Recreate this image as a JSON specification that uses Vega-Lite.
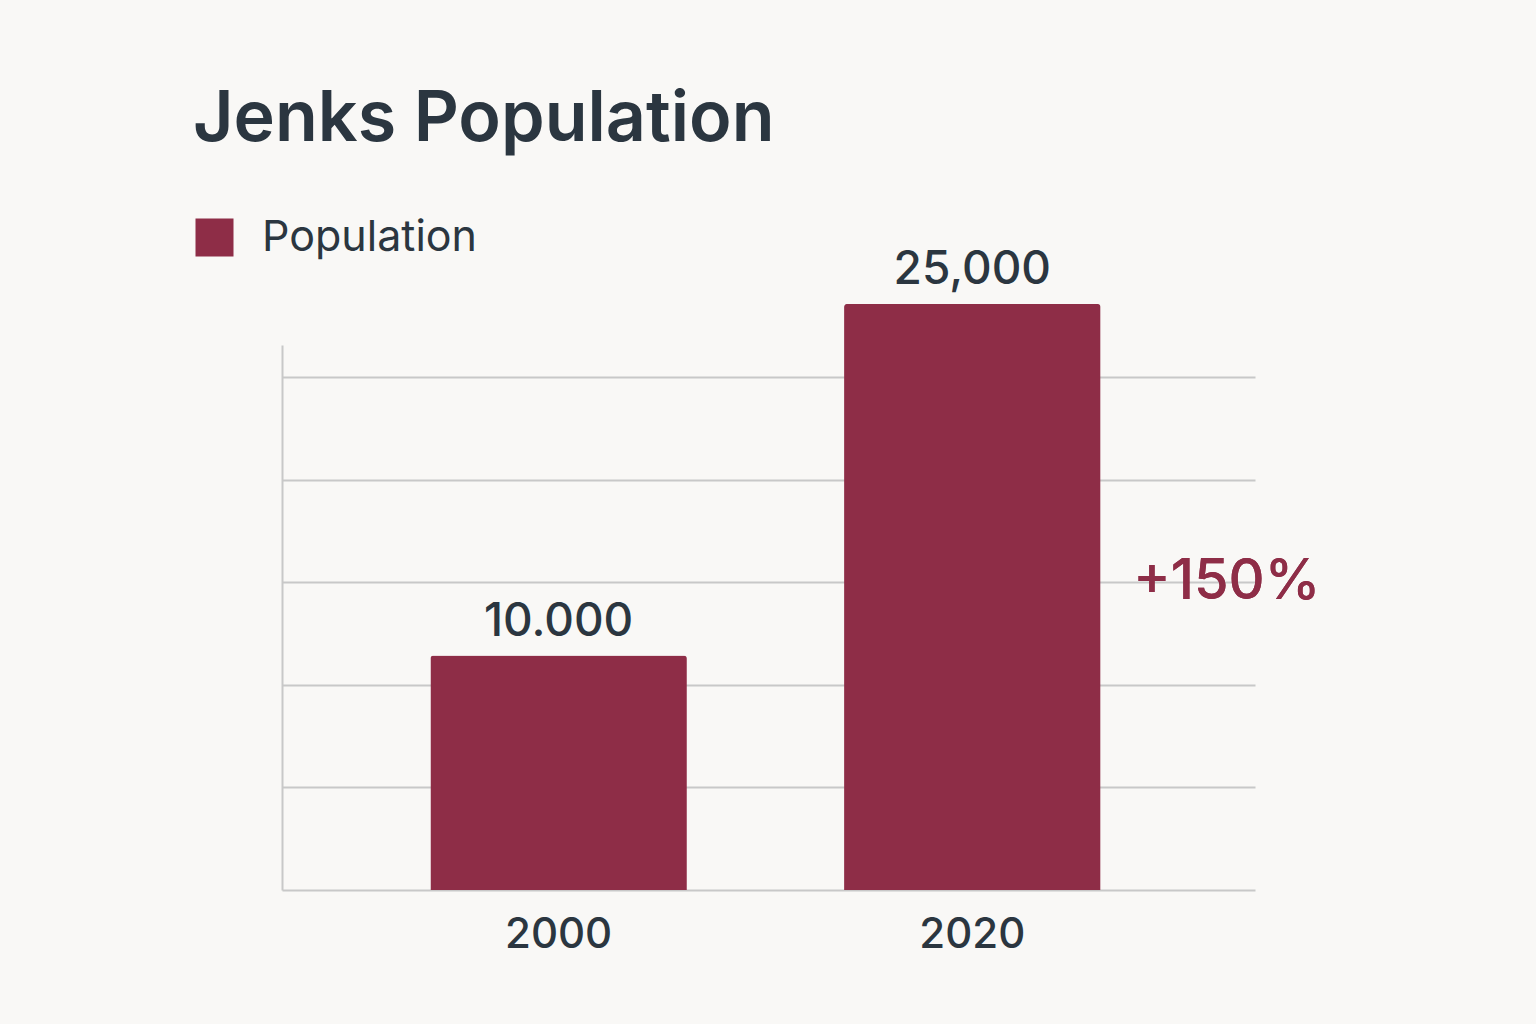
{
  "$schema": "https://vega.github.io/schema/vega-lite/v6.json",
  "width": 973,
  "height": 545,
  "autosize": {"type": "none"},
  "padding": {"left": 282, "top": 345, "right": 281, "bottom": 134},
  "background": "#f9f8f6",
  "title": {
    "text": "Jenks Population",
    "anchor": "start",
    "frame": "group",
    "dx": -89,
    "offset": 60,
    "fontSize": 70,
    "fontWeight": 600,
    "font": "Inter",
    "color": "#2b3640"
  },
  "data": {
    "values": [
      {"year": "2000", "population": 10000, "label": "10.000", "series": "Population"},
      {"year": "2020", "population": 25000, "label": "25,000", "series": "Population"}
    ]
  },
  "encoding": {
    "x": {
      "field": "year",
      "type": "nominal",
      "scale": {"paddingInner": 0.38, "paddingOuter": 0.366, "align": 0.49},
      "axis": {
        "title": null,
        "labelAngle": 0,
        "labelFontSize": 42,
        "labelFont": "Inter",
        "labelFontWeight": 500,
        "labelColor": "#2b3640",
        "labelPadding": 24,
        "ticks": false,
        "domainColor": "#c8c8c8",
        "domainWidth": 2
      }
    },
    "y": {
      "field": "population",
      "type": "quantitative",
      "scale": {"domain": [0, 23250], "nice": false},
      "axis": {
        "title": null,
        "labels": false,
        "ticks": false,
        "values": [4376, 8752, 13128, 17504, 21880],
        "grid": true,
        "gridColor": "#c8c8c8",
        "gridWidth": 2,
        "domainColor": "#c8c8c8",
        "domainWidth": 2
      }
    }
  },
  "layer": [
    {
      "mark": {"type": "bar", "cornerRadiusTopLeft": 3, "cornerRadiusTopRight": 3},
      "encoding": {
        "color": {
          "field": "series",
          "type": "nominal",
          "scale": {"range": ["#8e2d47"]},
          "legend": {
            "title": null,
            "orient": "none",
            "legendX": -89,
            "legendY": -129,
            "padding": 0,
            "symbolType": "square",
            "symbolSize": 1444,
            "symbolStrokeWidth": 0,
            "labelFontSize": 43,
            "labelFont": "Inter",
            "labelColor": "#2b3640",
            "labelOffset": 26,
            "labelLimit": 0
          }
        }
      }
    },
    {
      "mark": {"type": "text", "baseline": "alphabetic", "dy": -20, "fontSize": 46, "fontWeight": 500, "font": "Inter", "color": "#2b3640"},
      "encoding": {"text": {"field": "label"}}
    },
    {
      "mark": {"type": "text", "align": "left", "baseline": "middle", "dx": 161, "fontSize": 56, "fontWeight": 500, "font": "Inter", "color": "#8e2d47"},
      "encoding": {
        "x": {"datum": "2020"},
        "y": {"datum": 13128},
        "text": {"value": "+150%"}
      }
    }
  ],
  "config": {
    "view": {"stroke": null}
  }
}
